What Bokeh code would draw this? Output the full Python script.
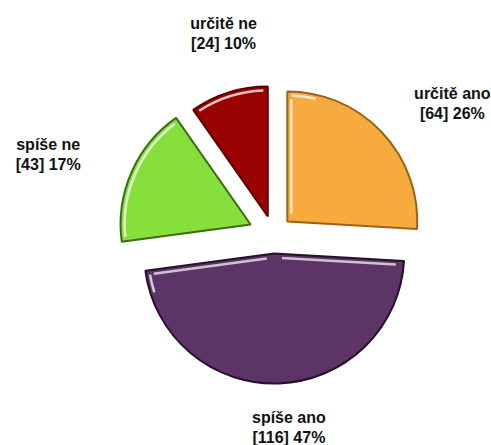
import math
from bokeh.plotting import figure
from bokeh.models import Range1d, ColumnDataSource
from bokeh.embed import file_html
from bokeh.resources import INLINE
from bokeh.core.properties import value

# ---- data ----
categories = ["určitě ano", "spíše ano", "spíše ne", "určitě ne"]
counts = [64, 116, 43, 24]

# ---- style ----
fill_colors = ["#F7AA3E", "#5D3466", "#86DF3A", "#9A0202"]
edge_colors = ["#9A6418", "#26102C", "#3E6E14", "#5A0000"]
explode = [19, 19, 25, 19]                         # px offset of each slice
label_nudge = [(0, 5), (6, -5), (0, 0), (24, -12)]  # px (x right, y down)

W, H = 491, 445
cx, cy = 273, H - 234
R = 130
LRX, LRY = 246, 198

total = sum(counts)
fracs = [c / total for c in counts]
pcts = [round(100 * f) for f in fracs]

p = figure(width=W, height=H, x_range=Range1d(0, W), y_range=Range1d(0, H),
           output_backend="svg", toolbar_location=None, min_border=0,
           x_axis_location=None, y_axis_location=None)
p.grid.visible = False
p.outline_line_color = None
p.background_fill_color = "white"
p.border_fill_color = "white"

wx, wy, sa, ea = [], [], [], []
lx1, ly1, lx2, ly2, t1, t2 = [], [], [], [], [], []
cum = 0.0
for i, f in enumerate(fracs):
    start = math.pi / 2 - 2 * math.pi * cum
    end = math.pi / 2 - 2 * math.pi * (cum + f)
    mid = (start + end) / 2
    x0 = cx + explode[i] * math.cos(mid)
    y0 = cy + explode[i] * math.sin(mid)
    wx.append(x0); wy.append(y0); sa.append(start); ea.append(end)
    # label
    lx = cx + LRX * math.cos(mid) + label_nudge[i][0]
    ly = cy + LRY * math.sin(mid) - label_nudge[i][1]
    lx1.append(lx); ly1.append(ly + 10); t1.append(categories[i])
    lx2.append(lx); ly2.append(ly - 10); t2.append(f"[{counts[i]}] {pcts[i]}%")
    cum += f

src = ColumnDataSource(dict(x=wx, y=wy, sa=sa, ea=ea, fc=fill_colors, lc=edge_colors))
p.wedge(x="x", y="y", radius=R, start_angle="sa", end_angle="ea", direction="clock",
        fill_color="fc", line_color="lc", line_width=2, source=src)

# glossy highlights
hx, hy, hs, he = [], [], [], []
sx0, sy0, sx1, sy1 = [], [], [], []
for i in range(len(counts)):
    lo = math.degrees(ea[i]) % 360
    hi = lo + math.degrees(sa[i] - ea[i])
    # arc highlight facing up-left
    for base in (0, 360):
        a0 = max(lo, 75 + base)
        a1 = min(hi, 200 + base)
        if a1 - a0 > 2:
            hx.append(wx[i]); hy.append(wy[i])
            hs.append(math.radians(a0 + 2)); he.append(math.radians(a1 - 2))
    # straight edge highlights
    for ang, nrm in ((lo, lo - 90), (hi, hi + 90)):
        n = nrm % 360
        if 80 <= n <= 190:
            ux, uy = math.cos(math.radians(ang)), math.sin(math.radians(ang))
            nx, ny = math.cos(math.radians(nrm)), math.sin(math.radians(nrm))
            ox, oy = wx[i] - 4 * nx, wy[i] - 4 * ny
            sx0.append(ox + 8 * ux); sy0.append(oy + 8 * uy)
            sx1.append(ox + (R - 8) * ux); sy1.append(oy + (R - 8) * uy)

p.arc(x=hx, y=hy, radius=R - 4, start_angle=hs, end_angle=he, direction="anticlock",
      line_color="white", line_alpha=0.75, line_width=2.5)
p.segment(x0=sx0, y0=sy0, x1=sx1, y1=sy1, line_color="white", line_alpha=0.7, line_width=2.5)

for xs, ys, ts in ((lx1, ly1, t1), (lx2, ly2, t2)):
    p.text(x=xs, y=ys, text=ts, text_align="center", text_baseline="middle",
           text_font=value("Liberation Sans"), text_font_style="bold",
           text_font_size="16px", text_color="#111111")

open("out.html", "w").write(file_html(p, INLINE))
